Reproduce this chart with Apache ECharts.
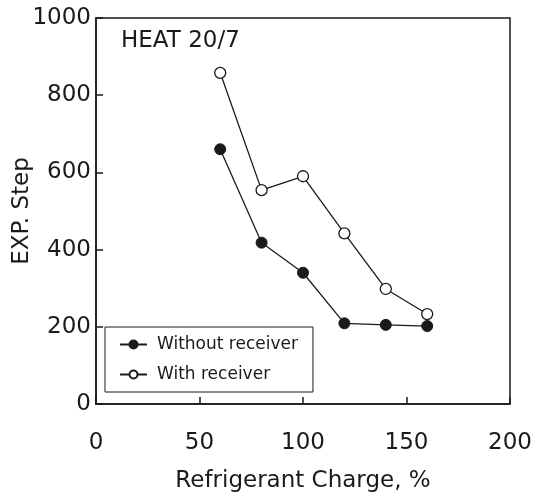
<!DOCTYPE html>
<html>
<head>
<meta charset="utf-8">
<script src="https://cdn.jsdelivr.net/npm/echarts@6/dist/echarts.min.js"></script>
<style>
  html, body { margin: 0; padding: 0; background: #fff; }
  #chart { width: 539px; height: 495px; }
</style>
</head>
<body>
<div id="chart"></div>
<script>
// refrigerant charge (%)
const charge = [60, 80, 100, 120, 140, 160]
// EXP. step values
const withoutReceiver = [660, 418, 340, 209, 205, 202]
const withReceiver = [858, 554, 590, 442, 298, 233]

const font = 'DejaVu Sans'
const ink = '#1a1a1a'

const chart = echarts.init(document.getElementById('chart'))

const toPairs = (xs, ys) => xs.map((x, i) => [x, ys[i]])

chart.setOption({
  backgroundColor: '#fff',
  animation: false,
  textStyle: { fontFamily: font, color: ink },
  title: {
    text: 'HEAT 20/7',
    left: 116,
    top: 25,
    textStyle: { fontFamily: font, fontSize: 23, fontWeight: 'normal', color: ink }
  },
  grid: {
    left: 96,
    right: 29,
    top: 18,
    bottom: 91,
    outerBoundsMode: 'none',
    containLabel: false,
    show: true,
    borderColor: ink,
    borderWidth: 1.5
  },
  legend: {
    orient: 'vertical',
    left: 105,
    top: 327,
    itemWidth: 27,
    itemHeight: 10,
    itemGap: 13,
    padding: [9, 15, 9, 14],
    borderColor: ink,
    borderWidth: 1,
    backgroundColor: '#fff',
    textStyle: { fontFamily: font, fontSize: 17, color: ink, padding: [0, 0, 0, 5] },
    data: ['Without receiver', 'With receiver']
  },
  xAxis: {
    type: 'value',
    min: 0,
    max: 200,
    interval: 50,
    name: 'Refrigerant Charge, %',
    nameLocation: 'middle',
    nameGap: 66,
    nameMoveOverlap: false,
    nameTextStyle: { fontFamily: font, fontSize: 23, color: ink },
    axisLine: { lineStyle: { color: ink, width: 1.5 } },
    axisTick: { inside: true, length: 7, lineStyle: { color: ink, width: 1.5 } },
    axisLabel: { margin: 28, fontFamily: font, fontSize: 23, color: ink,
      showMinLabel: true, showMaxLabel: true },
    splitLine: { show: false }
  },
  yAxis: {
    type: 'value',
    min: 0,
    max: 1000,
    interval: 200,
    name: 'EXP. Step',
    nameLocation: 'middle',
    nameGap: 62,
    nameMoveOverlap: false,
    nameTextStyle: { fontFamily: font, fontSize: 23, color: ink },
    axisLine: { lineStyle: { color: ink, width: 1.5 } },
    axisTick: { inside: true, length: 7, lineStyle: { color: ink, width: 1.5 } },
    axisLabel: { margin: 5, fontFamily: font, fontSize: 23, color: ink,
      formatter: v => String(v) },
    splitLine: { show: false }
  },
  series: [
    {
      name: 'Without receiver',
      type: 'line',
      data: toPairs(charge, withoutReceiver),
      symbol: 'circle',
      symbolSize: 11,
      lineStyle: { color: ink, width: 1.3 },
      itemStyle: { color: ink, borderColor: ink, borderWidth: 1 }
    },
    {
      name: 'With receiver',
      type: 'line',
      data: toPairs(charge, withReceiver),
      symbol: 'circle',
      symbolSize: 11,
      lineStyle: { color: ink, width: 1.3 },
      itemStyle: { color: '#fff', borderColor: ink, borderWidth: 1.3 }
    }
  ]
})
</script>
</body>
</html>
